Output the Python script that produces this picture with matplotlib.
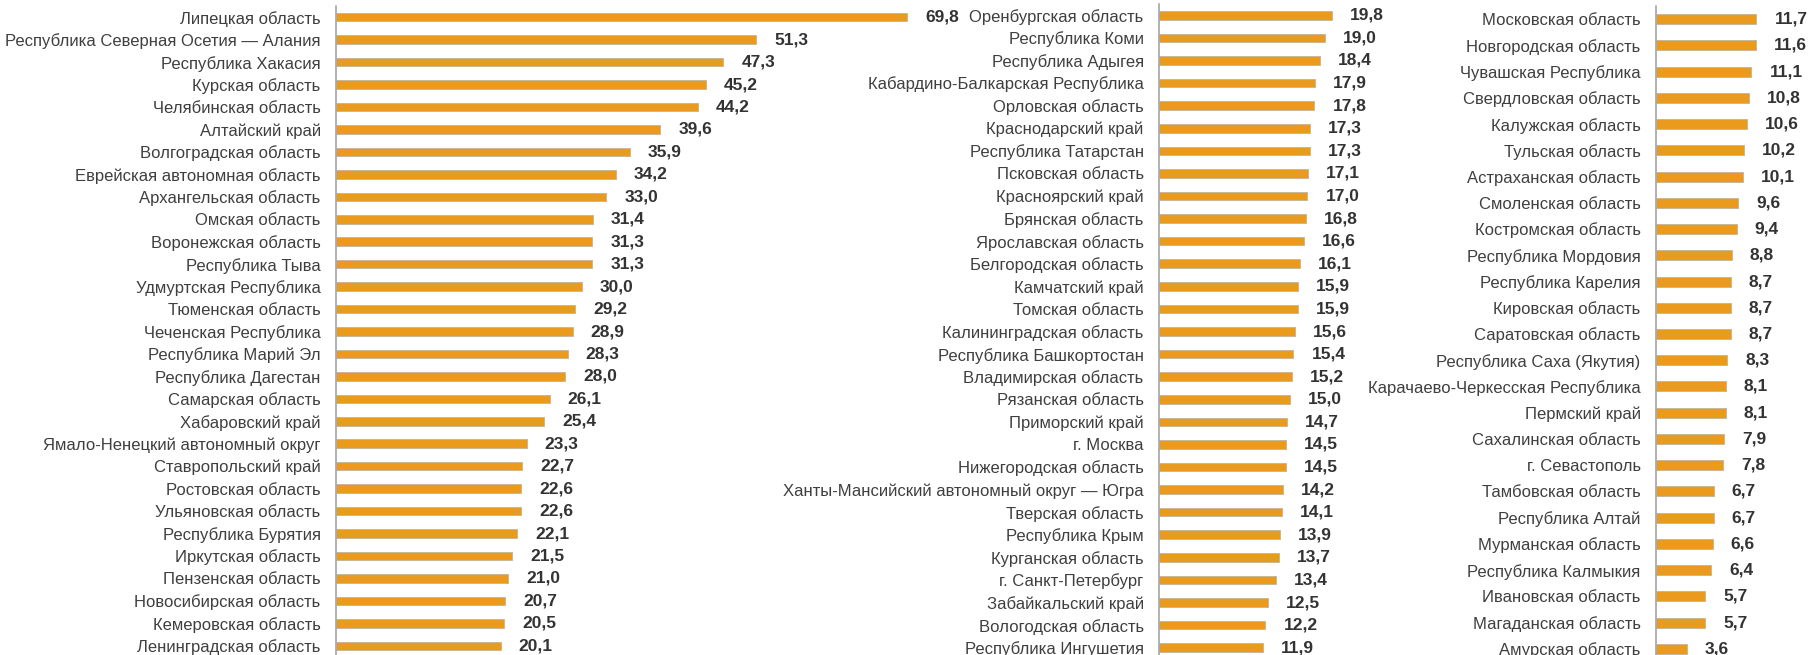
import matplotlib
matplotlib.use("Agg")
import matplotlib.pyplot as plt

plt.rcParams['font.family'] = ['Liberation Sans', 'DejaVu Sans']

# three columns of the ranking
names1 = ["Липецкая область", "Республика Северная Осетия — Алания", "Республика Хакасия",
          "Курская область", "Челябинская область", "Алтайский край", "Волгоградская область",
          "Еврейская автономная область", "Архангельская область", "Омская область",
          "Воронежская область", "Республика Тыва", "Удмуртская Республика", "Тюменская область",
          "Чеченская Республика", "Республика Марий Эл", "Республика Дагестан", "Самарская область",
          "Хабаровский край", "Ямало-Ненецкий автономный округ", "Ставропольский край",
          "Ростовская область", "Ульяновская область", "Республика Бурятия", "Иркутская область",
          "Пензенская область", "Новосибирская область", "Кемеровская область",
          "Ленинградская область"]
vals1 = [69.8, 51.3, 47.3, 45.2, 44.2, 39.6, 35.9, 34.2, 33.0, 31.4, 31.3, 31.3, 30.0, 29.2,
         28.9, 28.3, 28.0, 26.1, 25.4, 23.3, 22.7, 22.6, 22.6, 22.1, 21.5, 21.0, 20.7, 20.5, 20.1]

names2 = ["Оренбургская область", "Республика Коми", "Республика Адыгея",
          "Кабардино-Балкарская Республика", "Орловская область", "Краснодарский край",
          "Республика Татарстан", "Псковская область", "Красноярский край", "Брянская область",
          "Ярославская область", "Белгородская область", "Камчатский край", "Томская область",
          "Калининградская область", "Республика Башкортостан", "Владимирская область",
          "Рязанская область", "Приморский край", "г. Москва", "Нижегородская область",
          "Ханты-Мансийский автономный округ — Югра", "Тверская область", "Республика Крым",
          "Курганская область", "г. Санкт-Петербург", "Забайкальский край",
          "Вологодская область", "Республика Ингушетия"]
vals2 = [19.8, 19.0, 18.4, 17.9, 17.8, 17.3, 17.3, 17.1, 17.0, 16.8, 16.6, 16.1, 15.9, 15.9,
         15.6, 15.4, 15.2, 15.0, 14.7, 14.5, 14.5, 14.2, 14.1, 13.9, 13.7, 13.4, 12.5, 12.2, 11.9]

names3 = ["Московская область", "Новгородская область", "Чувашская Республика",
          "Свердловская область", "Калужская область", "Тульская область",
          "Астраханская область", "Смоленская область", "Костромская область",
          "Республика Мордовия", "Республика Карелия", "Кировская область",
          "Саратовская область", "Республика Саха (Якутия)", "Карачаево-Черкесская Республика",
          "Пермский край", "Сахалинская область", "г. Севастополь", "Тамбовская область",
          "Республика Алтай", "Мурманская область", "Республика Калмыкия",
          "Ивановская область", "Магаданская область", "Амурская область"]
vals3 = [11.7, 11.6, 11.1, 10.8, 10.6, 10.2, 10.1, 9.6, 9.4, 8.8, 8.7, 8.7, 8.7, 8.3, 8.1,
         8.1, 7.9, 7.8, 6.7, 6.7, 6.6, 6.4, 5.7, 5.7, 3.6]

W, H = 1812, 655
fig = plt.figure(figsize=(W / 100, H / 100), dpi=100)

# (left px, width px, xmax, top px, bottom px)
panels = [
    (names1, vals1, 336, 614, 75, 6, 657),
    (names2, vals2, 1159, 192, 22, 4, 659),
    (names3, vals3, 1656, 146, 17, 6, 662),
]

for names, vals, left, width, xmax, top, bottom in panels:
    ax = fig.add_axes([left / W, 1 - bottom / H, width / W, (bottom - top) / H])
    ax.patch.set_alpha(0)
    y = range(len(vals))
    ax.barh(y, vals, height=0.38, color='#EA9A1C', edgecolor='#C8B896', linewidth=0.7)
    ax.set_xlim(0, xmax)
    ax.set_ylim(len(vals) - 0.5, -0.5)
    ax.set_yticks(list(y))
    ax.set_yticklabels(names, fontsize=12, color='#3F3F3F')
    ax.tick_params(axis='y', length=0, pad=11)
    ax.set_xticks([])
    for s in ['top', 'right', 'bottom']:
        ax.spines[s].set_visible(False)
    ax.spines['left'].set_color('#A6A6A6')
    ax.spines['left'].set_linewidth(1.2)
    for yi, v in zip(y, vals):
        ax.annotate(f"{v:.1f}".replace('.', ','), (v, yi), xytext=(13, 0),
                    textcoords='offset points', va='center', ha='left',
                    fontsize=12.5, fontweight='bold', color='#333333',
                    annotation_clip=False)

fig.savefig("out.png", dpi=100)
